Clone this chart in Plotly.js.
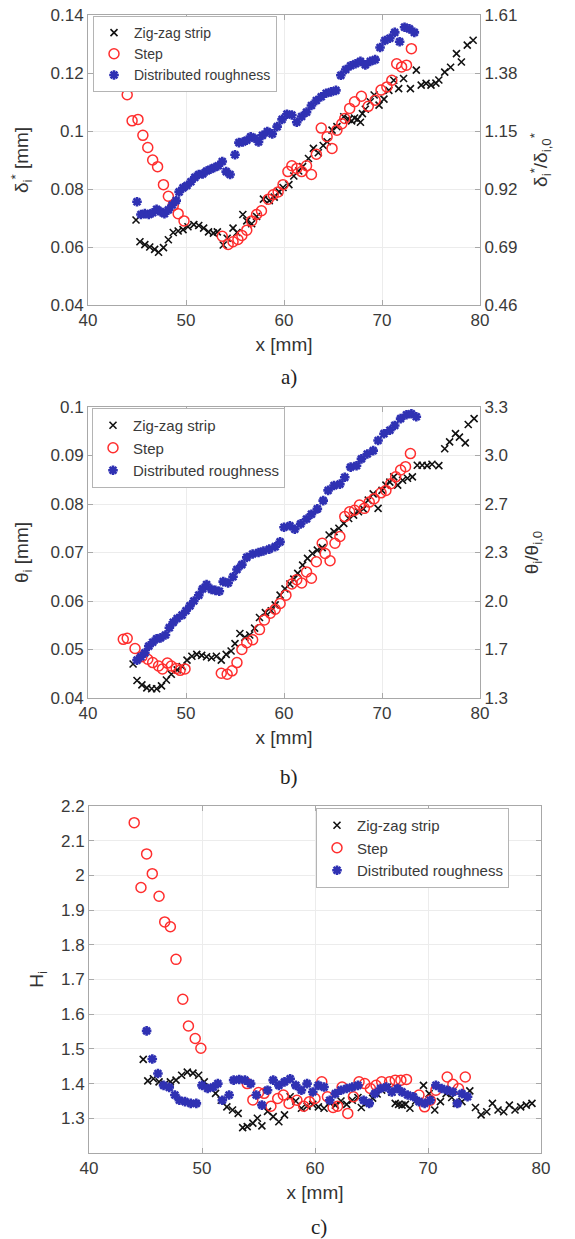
<!DOCTYPE html>
<html>
<head>
<meta charset="utf-8">
<script src="https://cdn.plot.ly/plotly-3.0.1.min.js"></script>
<style>html,body{margin:0;padding:0;background:#fff;}#chart{width:575px;height:1239px;}</style>
</head>
<body>
<div id="chart"></div>
<script>
// ---------- DATA ----------
const seriesNames = ["Zig-zag strip", "Step", "Distributed roughness"];
const xTicks = [40, 50, 60, 70, 80];

// a) displacement thickness delta*_i [mm]
const aZigX = [44.9,45.3,45.8,46.3,46.8,47.2,47.7,48.2,48.7,49.2,49.7,50.2,50.8,51.3,51.8,52.3,52.8,53.2,53.8,54.2,54.8,55.2,55.8,56.2,56.7,57.2,57.9,58.5,59.0,59.5,59.9,60.5,61.0,61.5,61.9,62.5,63.0,63.5,64.0,64.4,64.9,65.4,66.1,66.6,66.9,67.2,67.5,67.8,68.0,68.3,68.8,69.2,69.7,70.2,70.7,71.2,71.7,72.2,72.9,73.5,74.0,74.5,75.0,75.5,75.8,76.4,77.0,77.6,78.1,78.7,79.3];
const aZigY = [0.0693,0.0618,0.0608,0.0600,0.0592,0.0582,0.0598,0.0625,0.0650,0.0655,0.0660,0.0670,0.0677,0.0674,0.0665,0.0652,0.0648,0.0652,0.0607,0.0630,0.0665,0.0650,0.0712,0.0690,0.0680,0.0705,0.0765,0.0760,0.0772,0.0790,0.0805,0.0815,0.0845,0.0862,0.0877,0.0905,0.0940,0.0925,0.0950,0.0963,0.1003,0.1015,0.1049,0.1040,0.1035,0.1045,0.1040,0.1030,0.1060,0.1075,0.1101,0.1124,0.1089,0.1110,0.1140,0.1175,0.1146,0.1181,0.1146,0.1210,0.1158,0.1164,0.1158,0.1165,0.1176,0.1203,0.1220,0.1267,0.1238,0.1296,0.1313];
const aStepX = [44.0,44.5,45.1,45.6,46.1,46.6,47.1,47.7,48.2,48.7,49.2,49.8,53.7,54.3,54.8,55.3,55.7,56.2,56.7,57.2,57.7,58.4,58.9,59.4,59.9,60.4,60.8,61.3,61.8,62.3,62.8,63.3,63.8,64.4,64.9,65.4,65.9,66.2,66.7,67.2,67.9,68.6,69.3,69.9,70.5,71.0,71.5,72.0,72.5,73.0];
const aStepY = [0.1125,0.1035,0.1040,0.0985,0.0943,0.0900,0.0877,0.0815,0.0775,0.0743,0.0715,0.0690,0.0637,0.0609,0.0618,0.0626,0.0640,0.0658,0.0690,0.0712,0.0725,0.0765,0.0780,0.0790,0.0815,0.0860,0.0880,0.0871,0.0860,0.0880,0.0850,0.0920,0.1010,0.0980,0.0940,0.1003,0.1025,0.1043,0.1078,0.1101,0.1120,0.1085,0.1106,0.1141,0.1152,0.1175,0.1232,0.1221,0.1227,0.1284];
const aDistX = [45.0,45.4,45.8,46.2,46.6,47.0,47.4,47.8,48.2,48.6,49.0,49.3,49.7,50.1,50.5,50.9,51.3,51.7,52.1,52.5,52.9,53.3,53.7,54.1,54.5,55.0,55.4,55.8,56.2,56.6,57.0,57.4,57.8,58.3,58.8,59.3,59.8,60.3,60.8,61.3,61.8,62.3,62.8,63.3,63.8,64.3,64.8,65.3,65.8,66.3,66.8,67.3,67.8,68.3,68.8,69.3,69.8,70.3,70.8,71.3,71.8,72.3,72.8,73.3];
const aDistY = [0.0756,0.0712,0.0715,0.0712,0.0718,0.0730,0.0722,0.0715,0.0728,0.0745,0.0760,0.0790,0.0804,0.0812,0.0825,0.0840,0.0850,0.0852,0.0862,0.0868,0.0874,0.0880,0.0895,0.0860,0.0850,0.0918,0.0960,0.0962,0.0968,0.0980,0.0975,0.0962,0.0985,0.0998,0.0990,0.1015,0.1040,0.1058,0.1055,0.1030,0.1050,0.1065,0.1088,0.1105,0.1118,0.1130,0.1135,0.1140,0.1192,0.1212,0.1225,0.1232,0.1240,0.1228,0.1240,0.1246,0.1288,0.1312,0.1320,0.1340,0.1308,0.1358,0.1352,0.1340];
const aLeftTicks = [0.04, 0.06, 0.08, 0.1, 0.12, 0.14];
const aLeftText = ["0.04", "0.06", "0.08", "0.1", "0.12", "0.14"];
const aRightText = ["0.46", "0.69", "0.92", "1.15", "1.38", "1.61"];

// b) momentum thickness theta_i [mm]
const bZigX = [44.6,45.0,45.5,46.0,46.5,47.0,47.5,48.0,48.5,49.1,49.6,50.1,50.6,51.1,51.6,52.1,52.6,53.1,53.6,54.1,54.6,55.0,55.5,56.0,56.5,57.0,57.5,58.1,58.7,59.1,59.6,60.1,60.6,61.0,61.4,61.9,62.4,62.9,63.4,63.9,64.6,65.1,65.6,66.1,66.6,67.1,67.6,68.1,68.6,69.1,69.6,70.0,70.4,70.8,71.2,71.6,72.1,72.6,73.1,73.6,74.1,74.6,75.1,75.8,76.4,76.9,77.5,77.9,78.5,78.8,79.4];
const bZigY = [0.0470,0.0436,0.0427,0.0421,0.0419,0.0419,0.0425,0.0437,0.0449,0.0458,0.0465,0.0478,0.0486,0.0490,0.0488,0.0485,0.0483,0.0486,0.0478,0.0490,0.0497,0.0512,0.0533,0.0525,0.0530,0.0544,0.0566,0.0576,0.0580,0.0592,0.0612,0.0625,0.0635,0.0645,0.0657,0.0674,0.0688,0.0698,0.0705,0.0710,0.0736,0.0743,0.0750,0.0760,0.0770,0.0777,0.0784,0.0790,0.0808,0.0821,0.0791,0.0828,0.0839,0.0845,0.0856,0.0839,0.0849,0.0853,0.0856,0.0880,0.0880,0.0879,0.0882,0.0879,0.0914,0.0928,0.0945,0.0938,0.0926,0.0964,0.0976];
const bStepX = [43.6,44.0,44.8,45.5,46.1,46.6,47.2,47.6,48.1,48.5,49.0,49.4,49.9,53.6,54.2,54.7,55.2,55.7,56.2,56.8,57.5,58.0,58.6,59.1,59.6,60.2,60.8,61.3,61.8,62.3,62.8,63.3,63.9,64.2,64.7,65.2,65.7,66.2,66.7,67.2,67.7,68.2,68.7,69.2,69.9,70.4,70.9,71.4,71.9,72.4,72.9];
const bStepY = [0.0521,0.0523,0.0502,0.0485,0.0480,0.0473,0.0466,0.0460,0.0472,0.0466,0.0461,0.0457,0.0460,0.0451,0.0449,0.0456,0.0473,0.0500,0.0514,0.0520,0.0541,0.0561,0.0575,0.0583,0.0595,0.0612,0.0635,0.0644,0.0637,0.0660,0.0647,0.0681,0.0719,0.0698,0.0683,0.0719,0.0733,0.0774,0.0784,0.0787,0.0798,0.0791,0.0804,0.0811,0.0823,0.0828,0.0842,0.0856,0.0870,0.0877,0.0904];
const bDistX = [45.0,45.4,45.8,46.2,46.6,47.0,47.4,47.9,48.3,48.7,49.1,49.6,50.0,50.4,50.8,51.3,51.7,52.1,52.6,53.0,53.4,53.8,54.3,54.8,55.2,55.7,56.2,56.8,57.4,57.9,58.5,59.1,59.6,60.0,60.6,61.1,61.7,62.3,62.8,63.4,64.0,64.5,65.1,65.7,66.2,66.8,67.4,67.9,68.5,69.1,69.6,70.2,70.8,71.3,71.9,72.5,73.0,73.5];
const bDistY = [0.0478,0.0485,0.0493,0.0507,0.0515,0.0522,0.0524,0.0530,0.0545,0.0556,0.0564,0.0571,0.0580,0.0590,0.0600,0.0612,0.0625,0.0634,0.0624,0.0622,0.0620,0.0640,0.0637,0.0650,0.0665,0.0675,0.0690,0.0697,0.0700,0.0703,0.0707,0.0712,0.0722,0.0752,0.0755,0.0748,0.0759,0.0769,0.0779,0.0790,0.0807,0.0828,0.0838,0.0841,0.0855,0.0876,0.0879,0.0893,0.0903,0.0910,0.0931,0.0945,0.0952,0.0962,0.0976,0.0984,0.0986,0.0980];
const bLeftTicks = [0.04, 0.05, 0.06, 0.07, 0.08, 0.09, 0.1];
const bLeftText = ["0.04", "0.05", "0.06", "0.07", "0.08", "0.09", "0.1"];
const bRightText = ["1.3", "1.7", "2.0", "2.3", "2.7", "3.0", "3.3"];

// c) shape factor H_i
const cZigX = [44.8,45.2,45.7,46.2,46.7,47.2,47.7,48.2,48.7,49.2,49.7,50.2,50.7,51.2,51.7,52.2,52.7,53.2,53.6,54.0,54.5,54.9,55.3,55.8,56.3,56.8,57.3,57.8,58.3,58.8,59.3,59.8,60.3,60.8,61.3,61.8,62.3,62.8,63.3,63.8,64.1,64.6,65.1,65.5,65.9,66.4,66.8,67.1,67.4,67.7,68.0,68.4,68.9,69.6,70.1,70.6,71.1,71.6,72.1,72.5,73.0,73.7,74.2,74.7,75.2,75.7,76.2,76.7,77.2,77.7,78.2,78.7,79.2];
const cZigY = [1.470,1.408,1.414,1.405,1.398,1.405,1.410,1.424,1.433,1.430,1.424,1.405,1.390,1.372,1.352,1.333,1.324,1.314,1.273,1.276,1.286,1.300,1.278,1.320,1.305,1.290,1.310,1.362,1.350,1.329,1.335,1.340,1.333,1.329,1.345,1.338,1.350,1.340,1.352,1.360,1.331,1.345,1.358,1.370,1.381,1.390,1.375,1.343,1.340,1.338,1.340,1.329,1.350,1.395,1.371,1.324,1.348,1.371,1.360,1.343,1.348,1.379,1.331,1.310,1.319,1.343,1.324,1.319,1.338,1.324,1.333,1.338,1.343];
const cStepX = [44.0,44.6,45.1,45.6,46.2,46.7,47.2,47.7,48.3,48.8,49.4,49.9,54.0,54.5,55.0,55.5,56.1,56.7,57.2,57.7,58.4,59.0,59.5,60.0,60.6,61.1,61.6,62.0,62.4,62.9,63.4,63.9,64.4,64.9,65.4,65.9,66.6,67.1,67.6,68.1,69.2,69.7,70.2,70.7,71.7,72.2,72.7,73.3];
const cStepY = [2.152,1.965,2.062,2.005,1.940,1.866,1.852,1.758,1.643,1.566,1.530,1.502,1.400,1.353,1.374,1.372,1.335,1.357,1.367,1.343,1.352,1.335,1.348,1.357,1.405,1.362,1.331,1.335,1.390,1.314,1.362,1.405,1.400,1.386,1.395,1.405,1.405,1.410,1.410,1.412,1.367,1.333,1.352,1.381,1.419,1.398,1.386,1.419];
const cDistX = [45.1,45.6,46.1,46.6,47.1,47.6,48.0,48.5,49.0,49.5,50.0,50.5,51.0,51.4,51.8,52.4,52.8,53.3,53.8,54.3,54.8,55.3,55.8,56.3,56.8,57.3,57.8,58.3,58.8,59.3,59.8,60.3,60.8,61.3,61.8,62.3,62.8,63.3,63.8,64.3,64.8,65.3,65.8,66.3,66.8,67.3,67.7,68.2,68.7,69.2,69.7,70.2,70.7,71.2,71.7,72.2,72.6,73.0,73.5];
const cDistY = [1.552,1.471,1.429,1.395,1.389,1.367,1.352,1.348,1.343,1.343,1.395,1.386,1.390,1.400,1.352,1.367,1.410,1.412,1.410,1.400,1.367,1.338,1.381,1.410,1.395,1.405,1.414,1.395,1.381,1.400,1.376,1.395,1.390,1.352,1.371,1.381,1.386,1.390,1.395,1.352,1.343,1.371,1.386,1.390,1.376,1.386,1.376,1.367,1.362,1.348,1.343,1.352,1.395,1.386,1.381,1.376,1.343,1.371,1.362];
const cLeftTicks = [1.3, 1.4, 1.5, 1.6, 1.7, 1.8, 1.9, 2.0, 2.1, 2.2];
const cLeftText = ["1.3", "1.4", "1.5", "1.6", "1.7", "1.8", "1.9", "2", "2.1", "2.2"];

const panelLabels = ["a)", "b)", "c)"];

// ---------- STYLE / LAYOUT ----------
const W = 575, H = 1239;
const px = v => v / W;
const py = v => 1 - v / H;
const FONT = "Liberation Sans, Arial, Helvetica, sans-serif";
const TXT = "#3a3a3a";
const AXC = "#a8a8a8";
const GRID = "#ececec";

const styles = [
  {mode: "markers", marker: {symbol: "x-thin-open", size: 7, color: "#111", line: {color: "#111", width: 1.6}}},
  {mode: "markers", marker: {symbol: "circle-open", size: 10, color: "#ff2e2e", line: {color: "#ff2e2e", width: 1.5}}},
  {mode: "markers", marker: {symbol: "asterisk-open", size: 8, color: "#2f31b3", line: {color: "#2f31b3", width: 2.6}}}
];

function tr(x, y, k, xa, ya, leg) {
  return Object.assign({type: "scatter", x: x, y: y, name: seriesNames[k], xaxis: xa, yaxis: ya,
    legend: leg, hoverinfo: "skip"}, JSON.parse(JSON.stringify(styles[k])));
}

const data = [
  tr(aZigX, aZigY, 0, "x", "y", "legend"),
  tr(aStepX, aStepY, 1, "x", "y", "legend"),
  tr(aDistX, aDistY, 2, "x", "y", "legend"),
  {type: "scatter", x: [], y: [], xaxis: "x", yaxis: "y2", showlegend: false, hoverinfo: "skip"},
  tr(bZigX, bZigY, 0, "x2", "y3", "legend2"),
  tr(bStepX, bStepY, 1, "x2", "y3", "legend2"),
  tr(bDistX, bDistY, 2, "x2", "y3", "legend2"),
  {type: "scatter", x: [], y: [], xaxis: "x2", yaxis: "y4", showlegend: false, hoverinfo: "skip"},
  tr(cZigX, cZigY, 0, "x3", "y5", "legend3"),
  tr(cStepX, cStepY, 1, "x3", "y5", "legend3"),
  tr(cDistX, cDistY, 2, "x3", "y5", "legend3")
];

const tickFont = {family: FONT, size: 17, color: TXT};
const titleFont = {family: FONT, size: 19, color: "#333"};

function xAxis(dom, anchor, standoff) {
  return {domain: dom, anchor: anchor, range: [40, 80], tickvals: xTicks, ticktext: xTicks.map(String),
    ticks: "inside", ticklen: 5, tickcolor: AXC, showline: true, linecolor: AXC, linewidth: 1, mirror: "ticks",
    showgrid: true, gridcolor: GRID, zeroline: false, tickfont: tickFont,
    title: {text: "x [mm]", font: titleFont, standoff: standoff}};
}
function yAxis(dom, anchor, range, tv, tt, title, standoff, mirror) {
  return {domain: dom, anchor: anchor, range: range, tickvals: tv, ticktext: tt,
    ticks: "inside", ticklen: 5, tickcolor: AXC, showline: true, linecolor: AXC, linewidth: 1, mirror: mirror,
    showgrid: true, gridcolor: GRID, zeroline: false, tickfont: tickFont,
    title: {text: title, font: titleFont, standoff: standoff}};
}
function yRight(overlay, anchor, range, tv, tt, title, standoff) {
  return {overlaying: overlay, anchor: anchor, side: "right", range: range, tickvals: tv, ticktext: tt,
    ticks: "inside", ticklen: 5, tickcolor: AXC, showline: true, linecolor: AXC, linewidth: 1,
    showgrid: false, zeroline: false, tickfont: tickFont,
    title: {text: title, font: titleFont, standoff: standoff}};
}

const domA = [py(305), py(15)], domB = [py(698), py(407)], domC = [py(1153), py(806)];
const xAB = [px(88), px(480)], xC = [px(89), px(541)];

function legendAt(x, y, size) {
  return {x: px(x), y: py(y), bgcolor: "#ffffff", bordercolor: "#b4b4b4", borderwidth: 1,
    font: {family: FONT, size: size, color: TXT}, xanchor: "left", yanchor: "top", tracegroupgap: 0};
}

const layout = {
  width: W, height: H, margin: {l: 0, r: 0, t: 0, b: 0},
  paper_bgcolor: "#ffffff", plot_bgcolor: "#ffffff",
  font: {family: FONT, color: TXT},
  xaxis: xAxis(xAB, "y", 8),
  yaxis: yAxis(domA, "x", [0.04, 0.14], aLeftTicks, aLeftText, "δ<sub>i</sub><sup>*</sup> [mm]", 16, false),
  yaxis2: yRight("y", "x", [0.04, 0.14], aLeftTicks, aRightText, "δ<sub>i</sub><sup>*</sup>/δ<sub>i,0</sub><sup>*</sup>", 17),
  xaxis2: xAxis(xAB, "y3", 8),
  yaxis3: yAxis(domB, "x2", [0.04, 0.1], bLeftTicks, bLeftText, "θ<sub>i</sub> [mm]", 16, false),
  yaxis4: yRight("y3", "x2", [0.04, 0.1], bLeftTicks, bRightText, "θ<sub>i</sub>/θ<sub>i,0</sub>", 17),
  xaxis3: xAxis(xC, "y5", 8),
  yaxis5: yAxis(domC, "x3", [1.2, 2.2], cLeftTicks, cLeftText, "H<sub>i</sub>", 12, "ticks"),
  legend: legendAt(93, 16, 14),
  legend2: legendAt(92, 408, 15),
  legend3: legendAt(316, 808, 15),
  annotations: panelLabels.map((t, i) => ({
    text: t, xref: "paper", yref: "paper", showarrow: false,
    x: px([289, 289, 319][i]), y: py([377, 777, 1227][i]), xanchor: "center", yanchor: "middle",
    font: {family: "Liberation Serif, Times New Roman, serif", size: 21, color: "#222"}
  })),
  showlegend: true
};

Plotly.newPlot("chart", data, layout, {staticPlot: true, displayModeBar: false});
</script>
</body>
</html>
